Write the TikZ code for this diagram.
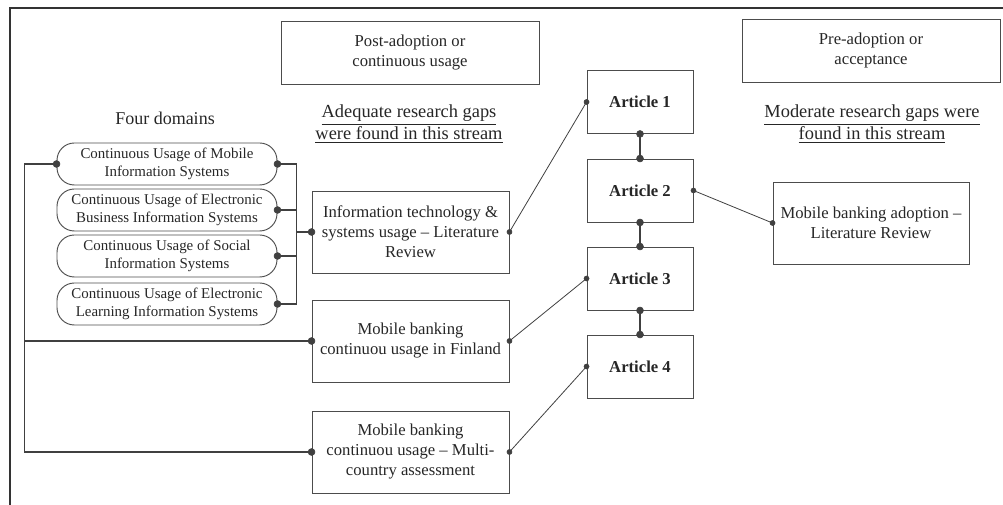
\documentclass[tikz,border=0pt]{standalone}
\usepackage{fontspec}
\setmainfont{Liberation Serif}
\tikzset{
    box/.style={draw=black!70, line width=0.7pt, inner sep=0pt, align=center,
        text=black!85, font=\fontsize{12.5}{15}\selectfont},
    domainbox/.style={box, rounded corners=13pt, minimum width=165pt,
        minimum height=31.5pt, font=\fontsize{11.2}{13}\selectfont},
    streambox/.style={box, minimum width=193.5pt, minimum height=47.25pt},
    studybox/.style={box, minimum width=147.75pt, minimum height=61.5pt},
    article/.style={box, minimum width=79.5pt, minimum height=47.25pt,
        font=\fontsize{12.5}{15}\selectfont\bfseries},
    link/.style={black!75, line width=0.6pt},
    bracket/.style={black!75, line width=1pt},
    chain/.style={black!75, line width=1.6pt},
}
\begin{document}
\begin{tikzpicture}[x=0.75pt, y=-0.75pt]
    \useasboundingbox (0,0) rectangle (1003,505);
    % Frame (top and left only)
    \draw[black!80, line width=1.5pt] (10,505) -- (10,8) -- (1003,8);

    % Two streams
    \node[streambox] (post) at (410,52.5) {Post-adoption or\\continuous usage};
    \node[streambox] (pre) at (871,50.5) {Pre-adoption or\\acceptance};
    \node[text=black!85, align=center, font=\fontsize{13.8}{16.5}\selectfont] (gapA) at (409,124)
        {\underline{Adequate research gaps}\\\underline{were found in this stream}};
    \node[text=black!85, align=center, font=\fontsize{13.8}{16.5}\selectfont] (gapM) at (872,124)
        {\underline{Moderate research gaps were}\\\underline{found in this stream}};

    % Four domains
    \node[text=black!85, font=\fontsize{13.5}{15}\selectfont] (four) at (165,118) {Four domains};
    \node[domainbox] (dom1) at (167,164) {Continuous Usage of Mobile\\Information Systems};
    \node[domainbox] (dom2) at (167,210) {Continuous Usage of Electronic\\Business Information Systems};
    \node[domainbox] (dom3) at (167,256) {Continuous Usage of Social\\Information Systems};
    \node[domainbox] (dom4) at (167,304) {Continuous Usage of Electronic\\Learning Information Systems};

    % Studies
    \node[studybox] (it) at (410.5,232) {Information technology \&\\systems usage -- Literature\\Review};
    \node[studybox] (fin) at (410.5,341) {Mobile banking\\continuou usage in Finland};
    \node[studybox] (multi) at (410.5,452) {Mobile banking\\continuou usage -- Multi-\\country assessment};
    \node[studybox, minimum width=147pt] (mba) at (871,223) {Mobile banking adoption --\\Literature Review};

    % Articles
    \foreach \i/\y in {1/102, 2/190.5, 3/278.5, 4/366.5}
        \node[article] (art\i) at (640,\y) {Article \i};

    % Connectors
    \draw[bracket] (dom1.west) -- ++(-32,0) |- (fin.west);
    \draw[bracket] (dom1.west) -- ++(-32,0) |- (multi.west);
    \draw[bracket] (dom1.east) -- ++(19,0) |- (dom4.east);
    \draw[bracket] (dom2.east) -- ++(19,0);
    \draw[bracket] (dom3.east) -- ++(19,0);
    \draw[bracket] (it.west) -- ++(-16,0);
    \draw[chain] (art1.south) -- (art2.north);
    \draw[chain] (art2.south) -- (art3.north);
    \draw[chain] (art3.south) -- (art4.north);
    \draw[link] (it.east) -- (art1.west);
    \draw[link] (fin.east) -- (art3.west);
    \draw[link] (multi.east) -- (art4.west);
    \draw[link] (art2.east) -- (mba.west);

    % Dots
    \foreach \p in {dom1.west, dom1.east, dom2.east, dom3.east, dom4.east, it.west, fin.west,
        multi.west, art1.south, art2.north, art2.south, art3.north, art3.south, art4.north}
        \filldraw[black!75] (\p) circle (2.6pt);
    \foreach \p in {it.east, fin.east, multi.east, art1.west, art3.west, art4.west, art2.east, mba.west}
        \filldraw[black!75] (\p) circle (1.9pt);
\end{tikzpicture}
\end{document}
